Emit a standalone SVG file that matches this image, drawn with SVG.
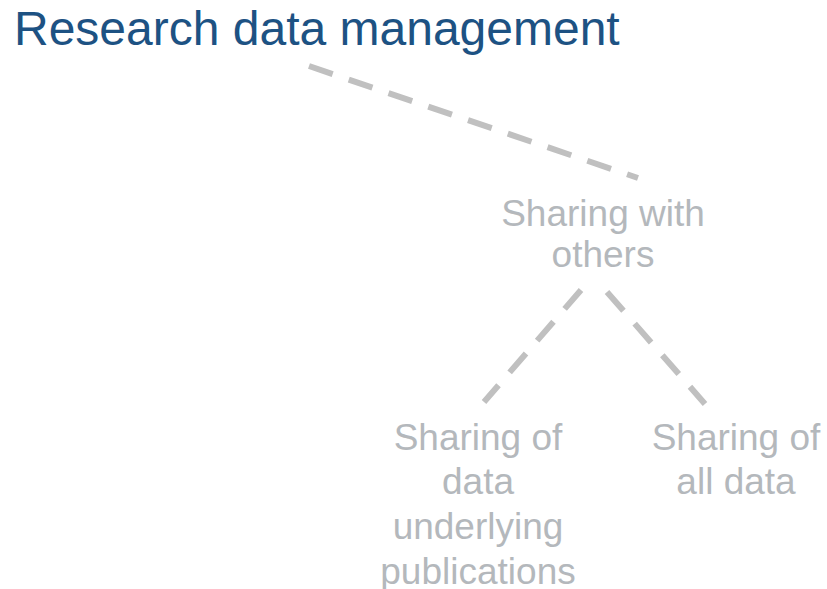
<svg xmlns="http://www.w3.org/2000/svg" width="827" height="589" viewBox="0 0 827 589">
<style>
.title{font-family:"Liberation Sans",Arial,sans-serif;font-size:48px;fill:#1d5283}
.lbl{font-family:"Liberation Sans",Arial,sans-serif;font-size:37px;fill:#b4b8bc;text-anchor:middle}
.conn{stroke:#c0c0c0;stroke-width:6;stroke-dasharray:25 17;fill:none}
</style>
<rect width="827" height="589" fill="#fff"/>
<g id="connectors">
<line class="conn" x1="309" y1="66" x2="638" y2="178" stroke-dasharray="9 17 25 17 25 17 25 17 25 17 25 17 25 17 25 17 25 17"/>
<line class="conn" x1="581" y1="290" x2="484" y2="402"/>
<line class="conn" x1="607" y1="292" x2="705" y2="404"/>
</g>
<g id="title"><text class="title" x="14" y="45">Research data management</text></g>
<g id="sharing-with-others"><text class="lbl"><tspan x="603" y="226">Sharing with</tspan><tspan x="603" y="267">others</tspan></text></g>
<g id="sharing-underlying"><text class="lbl"><tspan x="478" y="450">Sharing of</tspan><tspan x="478" y="494">data</tspan><tspan x="478" y="539">underlying</tspan><tspan x="478" y="584">publications</tspan></text></g>
<g id="sharing-all"><text class="lbl"><tspan x="736" y="450">Sharing of</tspan><tspan x="736" y="494">all data</tspan></text></g>
</svg>
